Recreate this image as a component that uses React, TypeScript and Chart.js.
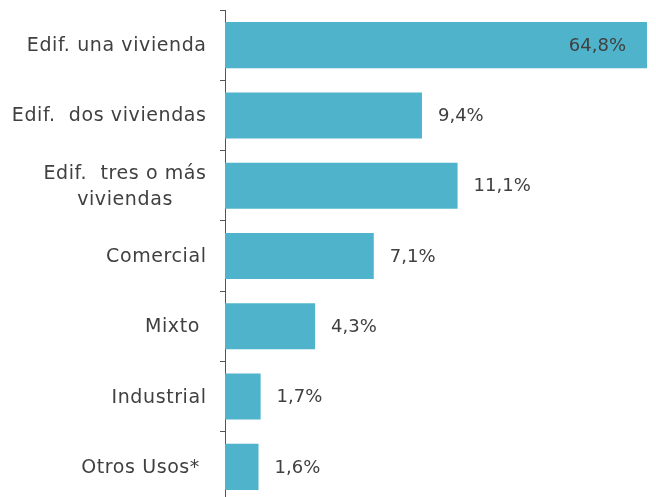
import React, { useEffect, useRef } from 'react';
import { Chart, registerables } from 'chart.js';

Chart.register(...registerables);

const categories = [
  'Edif. una vivienda',
  'Edif.  dos viviendas',
  'Edif.  tres o más\nviviendas',
  'Comercial',
  'Mixto ',
  'Industrial',
  'Otros Usos* ',
];
const values = [64.8, 9.4, 11.1, 7.1, 4.3, 1.7, 1.6];
const xMax = 20.14;

const FONT = '"DejaVu Sans", sans-serif';
const FONT_SIZE = 19;
const TEXT_COLOR = '#404040';
const BAR_COLOR = '#4FB4CB';

const fmt = (v: number) => v.toFixed(1).replace('.', ',') + '%';

const labelsPlugin = {
  id: 'customLabels',
  afterDraw(chart: any) {
    const ctx = chart.ctx;
    const yScale = chart.scales.y;
    const area = chart.chartArea;
    ctx.save();
    ctx.font = `${FONT_SIZE}px ${FONT}`;
    ctx.fillStyle = TEXT_COLOR;
    ctx.textBaseline = 'middle';
    const spacing = 0.6;
    (ctx as any).letterSpacing = spacing + 'px';
    const rightEdge = area.left - 19 + spacing;
    categories.forEach((cat, i) => {
      const lines = cat.split('\n');
      const yc = yScale.getPixelForValue(i) + 1;
      const lh = 26;
      const widths = lines.map((l) => ctx.measureText(l).width);
      const maxW = Math.max(...widths);
      lines.forEach((l, j) => {
        const y = yc + (j - (lines.length - 1) / 2) * lh;
        if (lines.length === 1) {
          ctx.textAlign = 'right';
          ctx.fillText(l, rightEdge, y);
        } else {
          ctx.textAlign = 'center';
          ctx.fillText(l, rightEdge - maxW / 2, y);
        }
      });
    });
    (ctx as any).letterSpacing = '0px';
    ctx.font = `18px ${FONT}`;
    const meta = chart.getDatasetMeta(0);
    meta.data.forEach((bar: any, i: number) => {
      const v = values[i];
      const txt = fmt(v);
      if (v > xMax) {
        ctx.textAlign = 'right';
        ctx.fillText(txt, area.right - 21, bar.y + 1);
      } else {
        ctx.textAlign = 'left';
        ctx.fillText(txt, bar.x + 16, bar.y + 1);
      }
    });
    ctx.restore();
  },
};

export default function App() {
  const ref = useRef<HTMLCanvasElement>(null);
  useEffect(() => {
    if (!ref.current) return;
    const chart = new Chart(ref.current, {
      type: 'bar',
      data: {
        labels: categories,
        datasets: [
          {
            data: values,
            backgroundColor: BAR_COLOR,
            borderWidth: 0,
            categoryPercentage: 1,
            barPercentage: 0.655,
          },
        ],
      },
      options: {
        indexAxis: 'y',
        animation: false,
        responsive: false,
        maintainAspectRatio: false,
        layout: { padding: { top: 10, bottom: 2, right: 9, left: 0 } },
        plugins: { legend: { display: false }, tooltip: { enabled: false } },
        scales: {
          x: { display: false, min: 0, max: xMax },
          y: {
            afterFit: (s: any) => {
              s.width = 225;
            },
            ticks: { display: false },
            grid: {
              drawOnChartArea: false,
              drawTicks: true,
              tickLength: 5,
              color: '#555555',
              offset: true,
            },
            border: { display: true, color: '#555555', width: 1 },
          },
        },
      },
      plugins: [labelsPlugin],
    });
    return () => chart.destroy();
  }, []);
  return (
    <div style={{ position: 'fixed', left: 0, top: 0, width: 656, height: 497, overflow: 'hidden', background: '#fff' }}>
      <canvas ref={ref} width={656} height={504} style={{ width: 656, height: 504, display: 'block' }} />
    </div>
  );
}
